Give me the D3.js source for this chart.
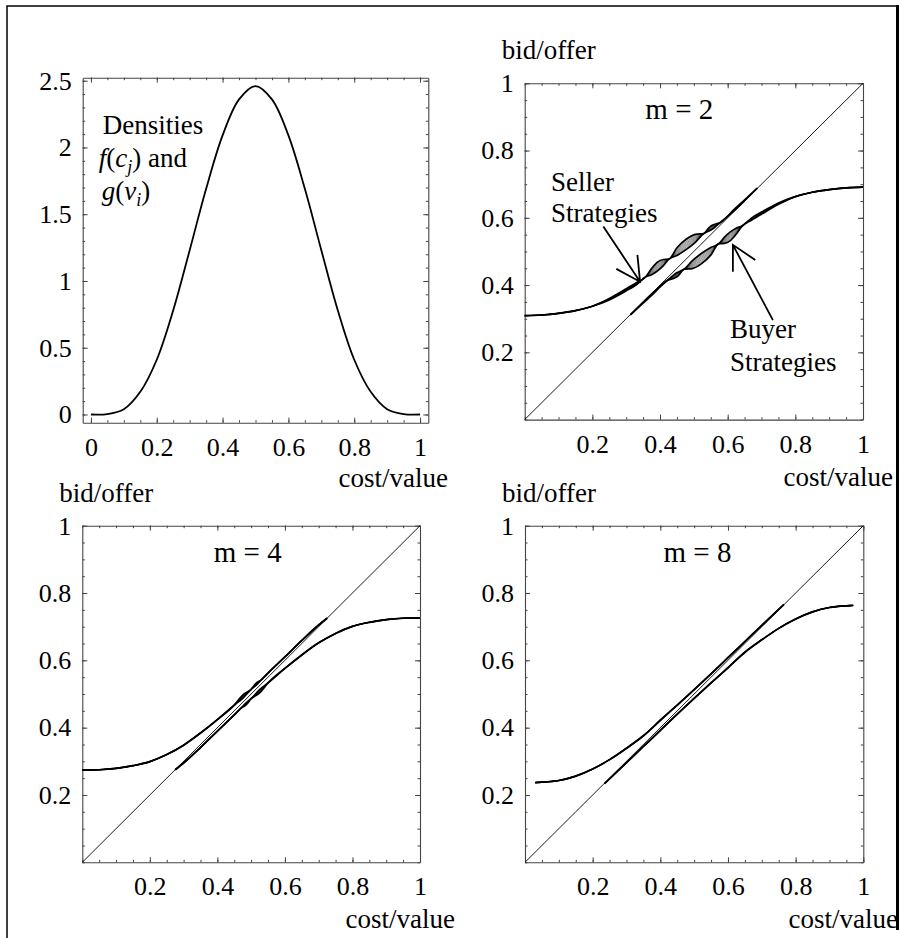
<!DOCTYPE html>
<html>
<head>
<meta charset="utf-8">
<script src="https://cdnjs.cloudflare.com/ajax/libs/d3/7.8.5/d3.min.js"></script>
<style>
  body { margin: 0; background: #fff; }
  svg { display: block; background: #fff; }
  svg text { font-family: "Liberation Serif", "Times New Roman", Times, "DejaVu Serif", serif; fill: #000; }
</style>
</head>
<body>
<div id="chart"></div>
<script>
// density f(c) = g(v) of costs / values
const densityX = [0, 0.05, 0.1, 0.15, 0.2, 0.25, 0.3, 0.35, 0.4, 0.45, 0.5,
                  0.55, 0.6, 0.65, 0.7, 0.75, 0.8, 0.85, 0.9, 0.95, 1];
const densityY = [0, 0.003, 0.04, 0.17, 0.41, 0.78, 1.23, 1.69, 2.09, 2.36, 2.46,
                  2.36, 2.09, 1.69, 1.23, 0.78, 0.41, 0.17, 0.04, 0.003, 0];

// m = 2 : seller offer vs cost, low / high envelope of the computed strategies
const seller2Cost = [0, 0.05, 0.1, 0.15, 0.2, 0.25, 0.3, 0.33, 0.357, 0.375, 0.392, 0.41, 0.426,
                     0.45, 0.478, 0.505, 0.529, 0.545, 0.553, 0.562, 0.578, 0.62, 0.655, 0.687];
const seller2Low  = [0.309, 0.311, 0.316, 0.324, 0.337, 0.356, 0.383, 0.401, 0.424, 0.431, 0.442, 0.458, 0.477,
                     0.488, 0.506, 0.528, 0.553, 0.561, 0.565, 0.572, 0.586, 0.622, 0.656, 0.688];
const seller2High = [0.309, 0.311, 0.316, 0.324, 0.337, 0.360, 0.389, 0.407, 0.424, 0.449, 0.468, 0.476, 0.477,
                     0.511, 0.537, 0.551, 0.553, 0.571, 0.577, 0.581, 0.586, 0.626, 0.658, 0.688];
// m = 2 : buyer bid vs value
const buyer2Value = [0.313, 0.345, 0.38, 0.422, 0.438, 0.447, 0.455, 0.471, 0.495, 0.522, 0.55, 0.574,
                     0.59, 0.608, 0.625, 0.643, 0.67, 0.7, 0.75, 0.8, 0.85, 0.9, 0.95, 1];
const buyer2Low   = [0.312, 0.342, 0.374, 0.414, 0.419, 0.423, 0.429, 0.447, 0.449, 0.463, 0.489, 0.523,
                     0.524, 0.532, 0.551, 0.576, 0.593, 0.611, 0.640, 0.663, 0.676, 0.684, 0.689, 0.691];
const buyer2High  = [0.312, 0.344, 0.378, 0.414, 0.428, 0.435, 0.439, 0.447, 0.472, 0.494, 0.512, 0.523,
                     0.542, 0.558, 0.569, 0.576, 0.599, 0.617, 0.644, 0.663, 0.676, 0.684, 0.689, 0.691];

// m = 4
const seller4Cost = [0, 0.05, 0.1, 0.15, 0.2, 0.25, 0.3, 0.35, 0.4, 0.45, 0.475, 0.5, 0.515, 0.53,
                     0.55, 0.6, 0.65, 0.7, 0.725];
const seller4Low  = [0.274, 0.275, 0.279, 0.287, 0.299, 0.320, 0.348, 0.384, 0.424, 0.467, 0.487, 0.514, 0.526, 0.542,
                     0.562, 0.610, 0.659, 0.705, 0.725];
const seller4High = [0.274, 0.275, 0.279, 0.287, 0.299, 0.320, 0.348, 0.384, 0.424, 0.467, 0.497, 0.514, 0.532, 0.542,
                     0.562, 0.610, 0.659, 0.705, 0.725];
const buyer4Value = [0.275, 0.3, 0.35, 0.4, 0.45, 0.47, 0.485, 0.5, 0.525, 0.55, 0.6, 0.65, 0.7,
                     0.75, 0.8, 0.85, 0.9, 0.95, 1];
const buyer4Low   = [0.275, 0.295, 0.341, 0.390, 0.438, 0.458, 0.468, 0.486, 0.503, 0.533, 0.576, 0.616, 0.652,
                     0.680, 0.701, 0.713, 0.721, 0.725, 0.726];
const buyer4High  = [0.275, 0.295, 0.341, 0.390, 0.438, 0.458, 0.474, 0.486, 0.513, 0.533, 0.576, 0.616, 0.652,
                     0.680, 0.701, 0.713, 0.721, 0.725, 0.726];

// m = 8
const seller8Cost = [0.03, 0.05, 0.1, 0.15, 0.2, 0.25, 0.3, 0.35, 0.4, 0.45, 0.5, 0.55, 0.6, 0.65, 0.7, 0.765];
const seller8Offer = [0.237, 0.238, 0.243, 0.256, 0.277, 0.305, 0.339, 0.376, 0.422, 0.467, 0.513, 0.560,
                      0.608, 0.656, 0.704, 0.766];
const buyer8Value = [0.235, 0.3, 0.35, 0.4, 0.45, 0.5, 0.55, 0.6, 0.65, 0.7, 0.75, 0.8, 0.85, 0.9, 0.95, 0.97];
const buyer8Bid   = [0.234, 0.296, 0.344, 0.392, 0.440, 0.487, 0.533, 0.578, 0.624, 0.661, 0.695, 0.723,
                     0.744, 0.757, 0.762, 0.763];

const unitTicks = [0.2, 0.4, 0.6, 0.8, 1];
const serif = "'Liberation Serif', 'Times New Roman', Times, 'DejaVu Serif', serif";

const svg = d3.select("#chart").append("svg")
    .attr("width", 899)
    .attr("height", 938)
    .attr("font-family", serif);

const fmt = d => String(+d.toFixed(2));
const minorUnit = d3.range(0, 1.0001, 0.05);

// frame with inward ticks on all four sides, labels on bottom and left
function drawFrame(p, x, y) {
    const sides = [
        {axis: d3.axisBottom, scale: x, major: p.xTicks, minor: p.xMinor, tr: `translate(0,${p.bottom})`, lab: true, bottom: true},
        {axis: d3.axisTop, scale: x, major: p.xTicks, minor: p.xMinor, tr: `translate(0,${p.top})`, lab: false},
        {axis: d3.axisLeft, scale: y, major: p.yTicks, minor: p.yMinor, tr: `translate(${p.left},0)`, lab: true},
        {axis: d3.axisRight, scale: y, major: p.yTicks, minor: p.yMinor, tr: `translate(${p.right},0)`, lab: false}
    ];
    sides.forEach(s => {
        svg.append("g")
            .attr("transform", s.tr)
            .call(s.axis(s.scale).tickValues(s.minor).tickSize(-2.5).tickSizeOuter(0).tickFormat(""))
            .call(g => g.select(".domain").remove())
            .selectAll("line").attr("stroke", "#444");

        const g = svg.append("g")
            .attr("transform", s.tr)
            .call(s.axis(s.scale).tickValues(s.major).tickSize(-5).tickSizeOuter(0)
                .tickPadding(11).tickFormat(s.lab ? fmt : ""))
            .attr("font-size", 26)
            .attr("font-family", serif);
        g.select(".domain").attr("stroke", "#444").attr("stroke-width", 1.1);
        g.selectAll("line").attr("stroke", "#444");
        g.selectAll("text").style("font-family", serif);
        if (s.bottom) g.selectAll("text").attr("y", 33).attr("dy", null);
    });
}

// a bundle of strategy curves spanning the low / high envelope
function strands(x, y, xs, lo, hi) {
    const K = 8;
    const line = d3.line().x(d => x(d[0])).y(d => y(d[1])).curve(d3.curveMonotoneX);
    d3.range(K + 1).forEach(k => {
        const t = k / K;
        const pts = xs.map((v, i) => [v, lo[i] + (hi[i] - lo[i]) * t]);
        svg.append("path")
            .attr("d", line(pts))
            .attr("fill", "none")
            .attr("stroke", "#000")
            .attr("stroke-width", (k === 0 || k === K) ? 1.7 : 0.45);
    });
}

function label(txt, px, py, size, anchor) {
    return svg.append("text")
        .attr("x", px).attr("y", py)
        .attr("font-size", size)
        .attr("text-anchor", anchor || "start")
        .style("font-family", serif)
        .text(txt);
}

// ---- panel 1: densities ----
const p1 = {left: 82.7, right: 428.3, top: 77.7, bottom: 422.7,
    xTicks: [0, 0.2, 0.4, 0.6, 0.8, 1], xMinor: minorUnit,
    yTicks: [0, 0.5, 1, 1.5, 2, 2.5], yMinor: d3.range(0, 2.5001, 0.1)};
const x1 = d3.scaleLinear().domain([-0.025, 1.025]).range([p1.left, p1.right]);
const y1 = d3.scaleLinear().domain([-0.0615, 2.5225]).range([p1.bottom, p1.top]);
drawFrame(p1, x1, y1);

svg.append("path")
    .datum(densityX.map((v, i) => [v, densityY[i]]))
    .attr("fill", "none")
    .attr("stroke", "#000")
    .attr("stroke-width", 1.8)
    .attr("d", d3.line().x(d => x1(d[0])).y(d => y1(d[1])).curve(d3.curveCatmullRom));

label("Densities", x1(0.036), y1(2.104), 27);
const fl = label("", x1(0.024), y1(1.857), 27);
fl.append("tspan").attr("font-style", "italic").text("f");
fl.append("tspan").text("(");
fl.append("tspan").attr("font-style", "italic").text("c");
fl.append("tspan").attr("font-style", "italic").attr("font-size", 18).attr("dy", 6).text("j");
fl.append("tspan").attr("dy", -6).text(") and");
const gl = label("", x1(0.033), y1(1.61), 27);
gl.append("tspan").attr("font-style", "italic").text("g");
gl.append("tspan").text("(");
gl.append("tspan").attr("font-style", "italic").text("v");
gl.append("tspan").attr("font-style", "italic").attr("font-size", 18).attr("dy", 6).text("i");
gl.append("tspan").attr("dy", -6).text(")");
label("cost/value", 448, 487, 27, "end");

// ---- strategy panels ----
const stratPanels = [
    {left: 524.7, right: 863, top: 83.3, bottom: 419.6, m: 2, mx: 0.457,
     sc: seller2Cost, slo: seller2Low, shi: seller2High, bv: buyer2Value, blo: buyer2Low, bhi: buyer2High,
     costEnd: 893},
    {left: 82.3, right: 420, top: 525.7, bottom: 862.3, m: 4, mx: 0.49,
     sc: seller4Cost, slo: seller4Low, shi: seller4High, bv: buyer4Value, blo: buyer4Low, bhi: buyer4High,
     costEnd: 455},
    {left: 525, right: 863.3, top: 525.7, bottom: 862.3, m: 8, mx: 0.51,
     sc: seller8Cost, slo: seller8Offer, shi: seller8Offer, bv: buyer8Value, blo: buyer8Bid, bhi: buyer8Bid,
     costEnd: 898}
];

stratPanels.forEach(p => {
    p.xTicks = unitTicks; p.yTicks = unitTicks; p.xMinor = minorUnit; p.yMinor = minorUnit;
    const x = d3.scaleLinear().domain([0, 1]).range([p.left, p.right]);
    const y = d3.scaleLinear().domain([0, 1]).range([p.bottom, p.top]);
    p.x = x; p.y = y;
    drawFrame(p, x, y);

    // 45 degree line
    svg.append("path")
        .datum([0, 1])
        .attr("fill", "none")
        .attr("stroke", "#000")
        .attr("stroke-width", 0.9)
        .attr("d", d3.line().x(d => x(d)).y(d => y(d)));

    strands(x, y, p.sc, p.slo, p.shi);
    strands(x, y, p.bv, p.blo, p.bhi);

    label(`m = ${p.m}`, x(p.mx), p.top + 36, 29, "middle").attr("xml:space", "preserve");
    label("bid/offer", p.left - 23, p.top - 24, 27);
    label("cost/value", p.costEnd, p.bottom + 66, 27, "end");
});

// annotations in the m = 2 panel
const pa = stratPanels[0];
function arrow(tail, tip) {
    const t0 = [pa.x(tail[0]), pa.y(tail[1])];
    const t1 = [pa.x(tip[0]), pa.y(tip[1])];
    const ang = Math.atan2(t0[1] - t1[1], t0[0] - t1[0]);
    const len = 27, spread = 28 * Math.PI / 180;
    const h1 = [t1[0] + len * Math.cos(ang + spread), t1[1] + len * Math.sin(ang + spread)];
    const h2 = [t1[0] + len * Math.cos(ang - spread), t1[1] + len * Math.sin(ang - spread)];
    svg.append("path")
        .attr("d", `M${t0}L${t1}M${h1}L${t1}L${h2}`)
        .attr("fill", "none")
        .attr("stroke", "#000")
        .attr("stroke-width", 1.8);
}
label("Seller", pa.x(0.078), pa.y(0.681), 27);
label("Strategies", pa.x(0.078), pa.y(0.588), 27);
label("Buyer", pa.x(0.607), pa.y(0.243), 27);
label("Strategies", pa.x(0.607), pa.y(0.145), 27);
arrow([0.2325, 0.574], [0.341, 0.410]);
arrow([0.7337, 0.296], [0.6154, 0.5196]);

// page border (top, left, right)
svg.append("path").attr("d", "M7,938V6H897").attr("fill", "none").attr("stroke", "#000").attr("stroke-width", 1.5);
svg.append("path").attr("d", "M897.5,5V930").attr("stroke", "#000").attr("stroke-width", 3);
</script>
</body>
</html>
